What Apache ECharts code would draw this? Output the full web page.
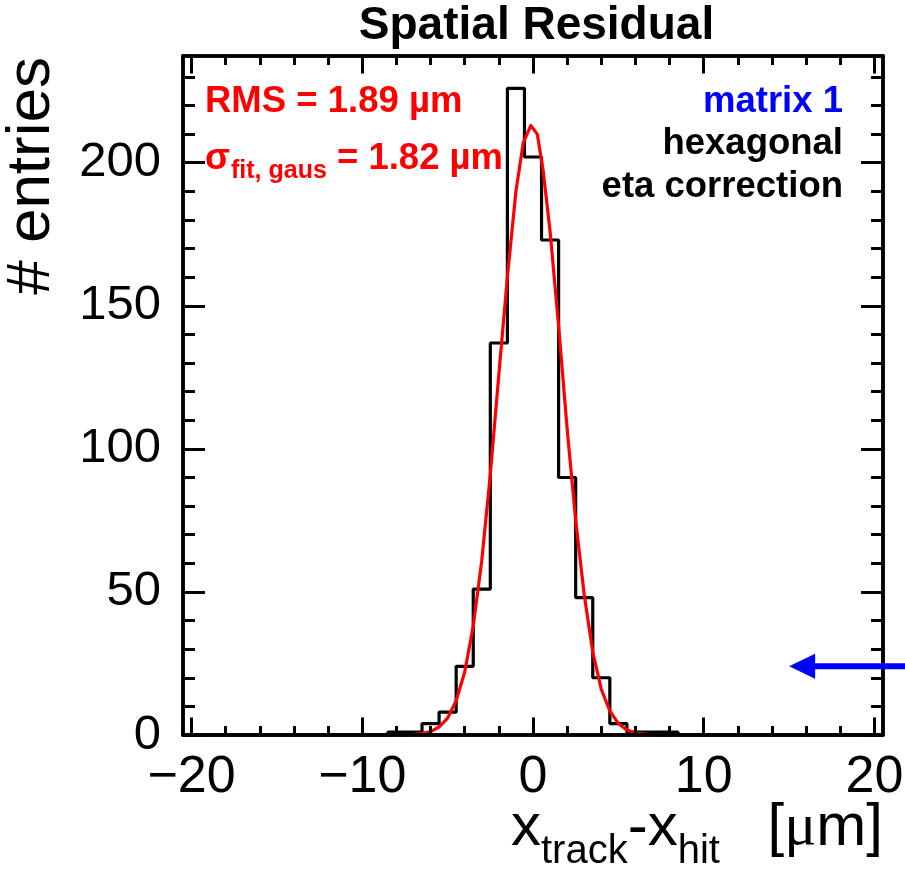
<!DOCTYPE html>
<html><head><meta charset="utf-8">
<script src="https://cdn.jsdelivr.net/npm/echarts@6/dist/echarts.min.js"></script>
<style>html,body{margin:0;padding:0;background:#fff}#c{width:905px;height:880px}</style>
</head><body><div id="c"></div>
<script>
// ---- data ----
const xRange = [-20.5, 20.5];
const yRange = [0, 237.3];
const xMajorTicks = [-20, -10, 0, 10, 20];
const xMinorTicks = [-20, -18, -16, -14, -12, -10, -8, -6, -4, -2, 0, 2, 4, 6, 8, 10, 12, 14, 16, 18, 20];
const yMajorTicks = [0, 50, 100, 150, 200];
const yMinorTicks = [0, 10, 20, 30, 40, 50, 60, 70, 80, 90, 100, 110, 120, 130, 140, 150, 160, 170, 180, 190, 200, 210, 220, 230];
const binCenters = [-8, -7, -6, -5, -4, -3, -2, -1, 0, 1, 2, 3, 4, 5, 6, 7, 8];
const binCounts  = [1, 1, 4, 8, 24, 51, 137, 226, 202, 173, 90, 48, 20, 4, 1, 1, 1];
const binWidth = 1;
const fitX = [-8, -7.5, -7, -6.5, -6, -5.5, -5, -4.5, -4, -3.5, -3, -2.5, -2, -1.5, -1, -0.57, -0.13, 0.25, 0.6, 1, 1.5, 2, 2.5, 3, 3.5, 4, 4.5, 5, 5.5, 6, 6.5, 7, 7.5, 8];
const fitY = [0, 0, 0.2, 0.5, 1.2, 2.8, 5.9, 12, 22, 38, 61, 91, 126, 160, 190, 207, 213, 210, 197, 176, 143, 107, 75, 49, 29, 16, 8.4, 4, 1.8, 0.7, 0.3, 0.1, 0, 0];
const arrowTip = [15, 24];

// ---- build histogram outline (bin left edges + final right edge) ----
const histPts = [];
const nBins = Math.round((xRange[1] - xRange[0]) / binWidth);
for (let i = 0; i < nBins; i++) {
  const lo = xRange[0] + i * binWidth;
  const c = lo + binWidth / 2;
  const k = binCenters.findIndex(v => Math.abs(v - c) < 1e-6);
  histPts.push([lo, k >= 0 ? binCounts[k] : 0]);
}
histPts.push([xRange[1], histPts[histPts.length - 1][1]]);
const fitPts = fitX.map((x, i) => [x, fitY[i]]);

const FONT = '"Liberation Sans", Arial, Helvetica, sans-serif';
const SERIF = '"Liberation Serif", "Times New Roman", serif';
const LW = 3.5;

function xAxisDef(pos, ticks, len, showLabel) {
  return {
    type: 'value', position: pos, min: xRange[0], max: xRange[1], z: 5,
    axisLine: { show: true, onZero: false, lineStyle: { color: '#000', width: LW } },
    axisTick: { show: true, inside: true, length: len, customValues: ticks, lineStyle: { color: '#000', width: 3 } },
    axisLabel: showLabel ? {
      show: true, customValues: ticks, fontSize: 52, fontFamily: FONT, color: '#000', margin: 17,
      formatter: v => (v < 0 ? '\u2212' + (-v) : String(v))
    } : { show: false },
    splitLine: { show: false }, minorTick: { show: false }
  };
}
function yAxisDef(pos, ticks, len, showLabel) {
  return {
    type: 'value', position: pos, min: yRange[0], max: yRange[1], z: 5,
    axisLine: { show: true, onZero: false, lineStyle: { color: '#000', width: LW } },
    axisTick: { show: true, inside: true, length: len, customValues: ticks, lineStyle: { color: '#000', width: 3 } },
    axisLabel: showLabel ? {
      show: true, customValues: ticks, fontSize: 49, fontFamily: FONT, color: '#000', margin: 22
    } : { show: false },
    splitLine: { show: false }, minorTick: { show: false }
  };
}

const chart = echarts.init(document.getElementById('c'), null, { renderer: 'canvas' });
chart.setOption({
  animation: false,
  backgroundColor: '#fff',
  grid: { left: 183, top: 56, width: 700, height: 679, containLabel: false, outerBoundsMode: 'none' },
  xAxis: [
    xAxisDef('bottom', xMajorTicks, 17.5, true),
    xAxisDef('bottom', xMinorTicks, 9, false),
    xAxisDef('top', xMajorTicks, 17.5, false),
    xAxisDef('top', xMinorTicks, 9, false)
  ],
  yAxis: [
    yAxisDef('left', yMajorTicks, 22, true),
    yAxisDef('left', yMinorTicks, 12, false),
    yAxisDef('right', yMajorTicks, 22, false),
    yAxisDef('right', yMinorTicks, 12, false)
  ],
  series: [
    {
      type: 'line', name: 'hist', data: histPts, step: 'end', xAxisIndex: 0, yAxisIndex: 0,
      symbol: 'none', showSymbol: false, z: 2,
      lineStyle: { color: '#000', width: 3.2 }
    },
    {
      type: 'line', name: 'fit', data: fitPts, xAxisIndex: 0, yAxisIndex: 0,
      symbol: 'none', showSymbol: false, smooth: false, z: 3,
      lineStyle: { color: '#ff0000', width: 3.2, join: 'round' }
    }
  ]
});

// ---- text & annotation overlays ----
const mctx = document.createElement('canvas').getContext('2d');
function tw(text, size, weight, family) {
  mctx.font = (weight || 'normal') + ' ' + size + 'px ' + (family || FONT);
  return mctx.measureText(text).width;
}
function T(x, base, text, size, o) {
  o = o || {};
  return {
    type: 'text', x: x, y: base - 0.3465 * size, z: 20, silent: true,
    style: {
      text: text, fontSize: size, fontWeight: o.w || 'normal', fontFamily: o.f || FONT,
      fill: o.c || '#000', align: o.a || 'left', verticalAlign: 'middle'
    }
  };
}
const g = [];
// title
g.push(T(536.5, 42.7, 'Spatial Residual', 46, { w: 'bold', a: 'center' }));
// RMS line
const AS = 36.5;
g.push(T(205, 115, 'RMS = 1.89 \u00b5m', AS, { w: 'bold', c: '#ff0000' }));
// sigma line
let sx = 205;
g.push(T(sx, 172, '\u03c3', AS, { w: 'bold', c: '#ff0000' }));
sx += tw('\u03c3', AS, 'bold') + 1;
g.push(T(sx, 180, 'fit, gaus', 25, { w: 'bold', c: '#ff0000' }));
sx += tw('fit, gaus', 25, 'bold');
g.push(T(sx, 172, ' = 1.82 \u00b5m', AS, { w: 'bold', c: '#ff0000' }));
// right labels
g.push(T(843, 115, 'matrix 1', AS, { w: 'bold', c: '#0000ff', a: 'right' }));
g.push(T(843, 157, 'hexagonal', AS, { w: 'bold', a: 'right' }));
g.push(T(843, 200, 'eta correction', AS, { w: 'bold', a: 'right' }));
// y axis title (rotated)
g.push({
  type: 'text', x: 53 - 0.3465 * 62, y: 57, rotation: Math.PI / 2, z: 20, silent: true,
  style: { text: '# entries', fontSize: 62, fontFamily: FONT, fill: '#000', align: 'right', verticalAlign: 'middle' }
});
// x axis title
const XM = 60, XS = 40, XB = 849, XSB = 866;
let xx = 511;
g.push(T(xx, XB, 'x', XM)); xx += tw('x', XM);
g.push(T(xx, XSB, 'track', XS)); xx += tw('track', XS);
g.push(T(xx, XB, '-x', XM)); xx += tw('-x', XM);
g.push(T(xx, XSB, 'hit', XS));
let rx = 883;
g.push(T(rx, XB, 'm]', XM, { a: 'right' })); rx -= tw('m]', XM);
g.push(T(rx, XB, '\u03bc', XM, { a: 'right', f: SERIF })); rx -= tw('\u03bc', XM, 'normal', SERIF);
g.push(T(rx, XB, '[', XM, { a: 'right' }));

// blue arrow, anchored in data space
const tip = chart.convertToPixel({ xAxisIndex: 0, yAxisIndex: 0 }, arrowTip);
const headLen = 26, headHalf = 12.5;
g.push({
  type: 'line', z: 20, silent: true,
  shape: { x1: tip[0] + headLen - 2, y1: tip[1], x2: 905, y2: tip[1] },
  style: { stroke: '#0000ff', lineWidth: 6 }
});
g.push({
  type: 'polygon', z: 20, silent: true,
  shape: { points: [[tip[0], tip[1]], [tip[0] + headLen, tip[1] - headHalf], [tip[0] + headLen, tip[1] + headHalf]] },
  style: { fill: '#0000ff' }
});
chart.setOption({ graphic: g });
</script>
</body></html>
